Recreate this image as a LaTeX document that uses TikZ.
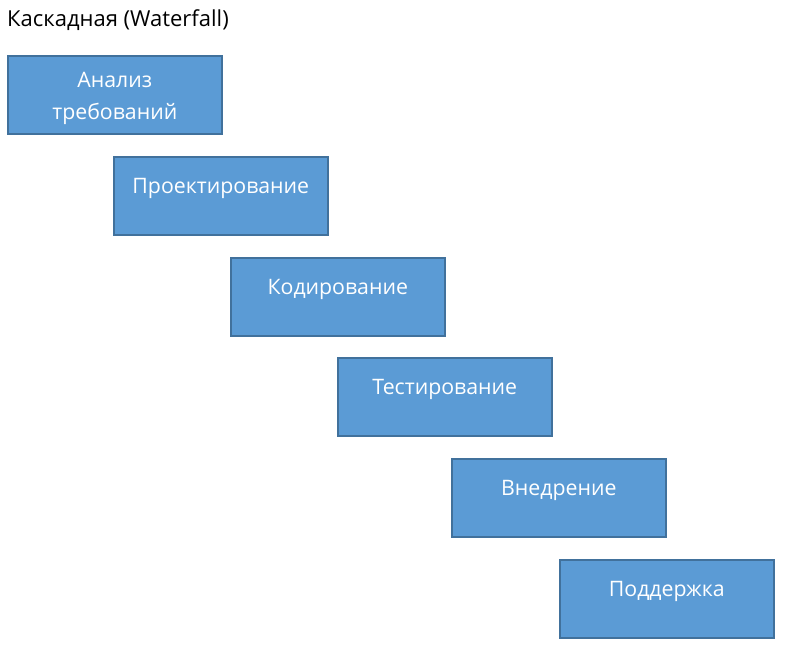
\documentclass[tikz,border=0pt]{standalone}
\usepackage{fontspec}
\setmainfont{Open Sans}
\usetikzlibrary{positioning, calc}
\definecolor{stagefill}{HTML}{5B9BD5}
\definecolor{stageline}{HTML}{41719C}

\begin{document}
\begin{tikzpicture}[x=1pt,y=-1pt,
    stage/.style={draw=stageline,fill=stagefill,line width=1.6pt,
      minimum width=214pt,minimum height=78pt,inner sep=0pt,anchor=north west},
    stagetxt/.style={text=white,font=\fontsize{21.3}{32}\selectfont,
      align=center,inner sep=0pt,anchor=base}]
  % page
  \useasboundingbox (0,0) rectangle (791,655);
  % title
  \node[anchor=base west,inner sep=0pt,font=\fontsize{22}{26}\selectfont]
    (title) at (7,27) {Каскадная (Waterfall)};
  % stages
  \node[stage] (anal)   at (7,55)   {};
  \node[stage] (proekt) at (113,156) {};
  \node[stage] (kod)    at (230,257) {};
  \node[stage] (test)   at (337,357) {};
  \node[stage] (vnedr)  at (451,458) {};
  \node[stage] (podd)   at (559,559) {};
  % texts
  \node[stagetxt,anchor=north] (anal-t) at ($(anal.north)+(0,17)$)
    {Анализ\\требований};
  \node[stagetxt] (proekt-t) at ($(proekt.north)+(0,37)$) {Проектирование};
  \node[stagetxt] (kod-t)    at ($(kod.north)+(0,37)$)    {Кодирование};
  \node[stagetxt] (test-t)   at ($(test.north)+(0,37)$)   {Тестирование};
  \node[stagetxt] (vnedr-t)  at ($(vnedr.north)+(0,37)$)  {Внедрение};
  \node[stagetxt] (podd-t)   at ($(podd.north)+(0,37)$)   {Поддержка};
\end{tikzpicture}
\end{document}
